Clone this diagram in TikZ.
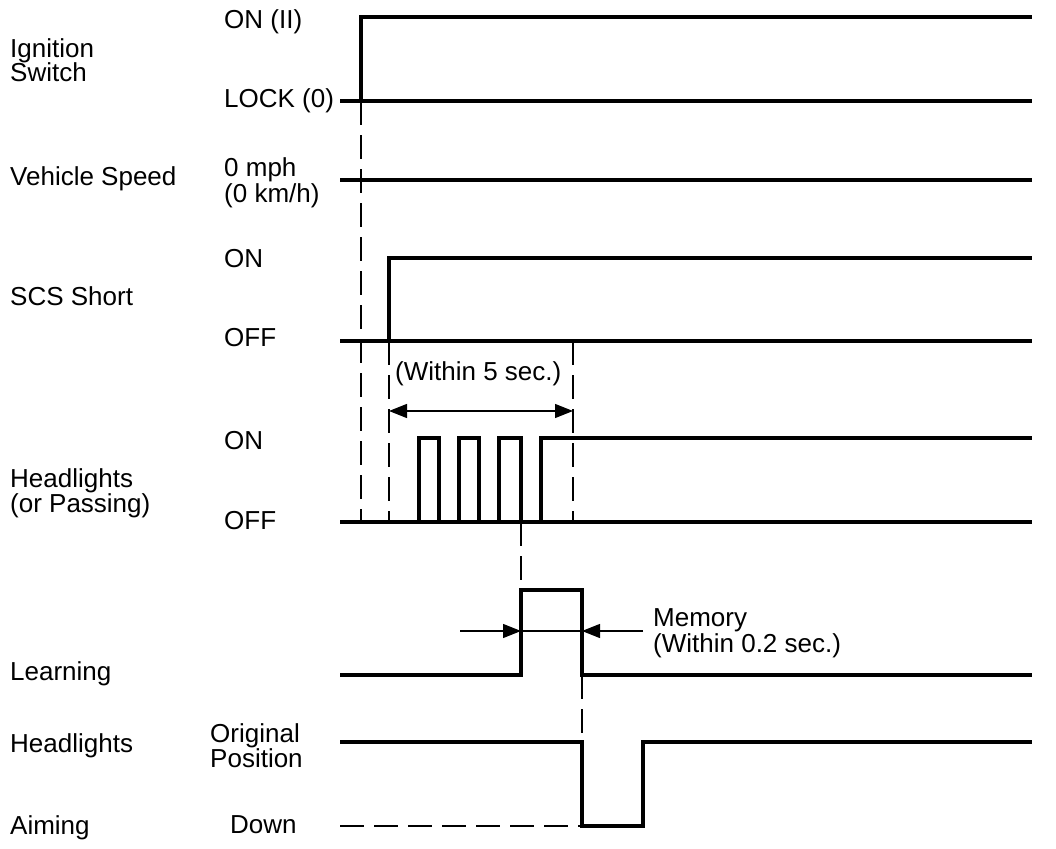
\documentclass[tikz,border=0pt]{standalone}
\usepackage{fontspec}
\setmainfont{Liberation Sans}
\usetikzlibrary{arrows.meta}
\begin{document}
\begin{tikzpicture}[x=1pt,y=-1pt,
  sig/.style={line width=3.6pt,line join=miter,line cap=butt},
  guide/.style={line width=1.2pt,dash pattern=on 24pt off 10pt},
  dim/.style={line width=1.2pt},
  tip/.style={-{Triangle[length=18pt,width=14pt]}},
  lbl/.style={anchor=base west,inner sep=0pt,font=\fontsize{26}{26}\selectfont}]
\useasboundingbox (0,0) rectangle (1056,848);
% ---- labels ----
\node[lbl] (ig1) at (10,58) {Ignition};
\node[lbl] (ig2) at (10,82) {Switch};
\node[lbl] (on1) at (224,29) {ON (II)};
\node[lbl] (lock) at (224,107) {LOCK (0)};
\node[lbl] (vs) at (10,185) {Vehicle Speed};
\node[lbl] (mph) at (224,176) {0 mph};
\node[lbl] (kmh) at (224,202) {(0 km/h)};
\node[lbl] (on2) at (224,267) {ON};
\node[lbl] (scs) at (10,305) {SCS Short};
\node[lbl] (off2) at (224,346) {OFF};
\node[lbl] (w5) at (395,380) {(Within 5 sec.)};
\node[lbl] (on3) at (224,449) {ON};
\node[lbl] (hl1) at (10,487) {Headlights};
\node[lbl] (hl2) at (10,512) {(or Passing)};
\node[lbl] (off3) at (224,529) {OFF};
\node[lbl] (mem1) at (653,626) {Memory};
\node[lbl] (mem2) at (653,652) {(Within 0.2 sec.)};
\node[lbl] (lrn) at (10,680) {Learning};
\node[lbl] (ha1) at (10,752) {Headlights};
\node[lbl] (orig) at (210,742) {Original};
\node[lbl] (pos) at (210,767) {Position};
\node[lbl] (ha2) at (10,834) {Aiming};
\node[lbl] (down) at (230,833) {Down};
% ---- key coordinates ----
\coordinate (igL) at (340,101);
\coordinate (igE) at (361,101);
\coordinate (igH) at (361,17);
\coordinate (igR) at (1032,17);
\coordinate (igLR) at (1032,101);
\coordinate (scsE) at (389,341);
\coordinate (d5) at (573,341);
\coordinate (hlLowA) at (361,522);
\coordinate (hlLowB) at (389,522);
\coordinate (hlLowC) at (573,522);
\coordinate (hlLowD) at (521,522);
\coordinate (lrnUp) at (521,590);
\coordinate (lrnDn) at (582,675);
\coordinate (aimTop) at (582,742);
\coordinate (aimL) at (340,826);
\coordinate (aimB) at (582,826);
% ---- signals ----
\draw[sig] (igL) -- (igLR);
\draw[sig] (igE) -- (igH) -- (igR);
\draw[sig] (340,180) -- (1032,180);
\draw[sig] (340,341) -- (1032,341);
\draw[sig] (scsE) -- (389,258) -- (1032,258);
\draw[sig] (340,522) -- (1032,522);
\draw[sig] (419,522) -- (419,438) -- (439,438) -- (439,522);
\draw[sig] (459,522) -- (459,438) -- (479,438) -- (479,522);
\draw[sig] (499,522) -- (499,438) -- (521,438) -- (521,522);
\draw[sig] (541,522) -- (541,438) -- (1032,438);
\draw[sig] (340,675) -- (521,675) -- (lrnUp) -- (582,590) -- (lrnDn) -- (1032,675);
\draw[sig] (340,742) -- (aimTop) -- (aimB) -- (643,826) -- (643,742) -- (1032,742);
% ---- guides ----
\draw[guide] (igE) -- (hlLowA);
\draw[guide] (scsE) -- (hlLowB);
\draw[guide] (d5) -- (hlLowC);
\draw[guide] (hlLowD) -- (lrnUp);
\draw[guide] (lrnDn) -- (aimTop);
\draw[guide] (aimL) -- (aimB);
% ---- dimensions ----
\coordinate (a5L) at (389,411);
\coordinate (a5R) at (573,411);
\draw[dim,{Triangle[length=18pt,width=14pt]}-{Triangle[length=18pt,width=14pt]}] (a5L) -- (a5R);
\coordinate (mL) at (460,631);
\coordinate (mA) at (521,631);
\coordinate (mB) at (582,631);
\coordinate (mR) at (643,631);
\draw[dim] (mA) -- (mB);
\draw[dim,tip] (mL) -- (mA);
\draw[dim,tip] (mR) -- (mB);
\end{tikzpicture}
\end{document}
